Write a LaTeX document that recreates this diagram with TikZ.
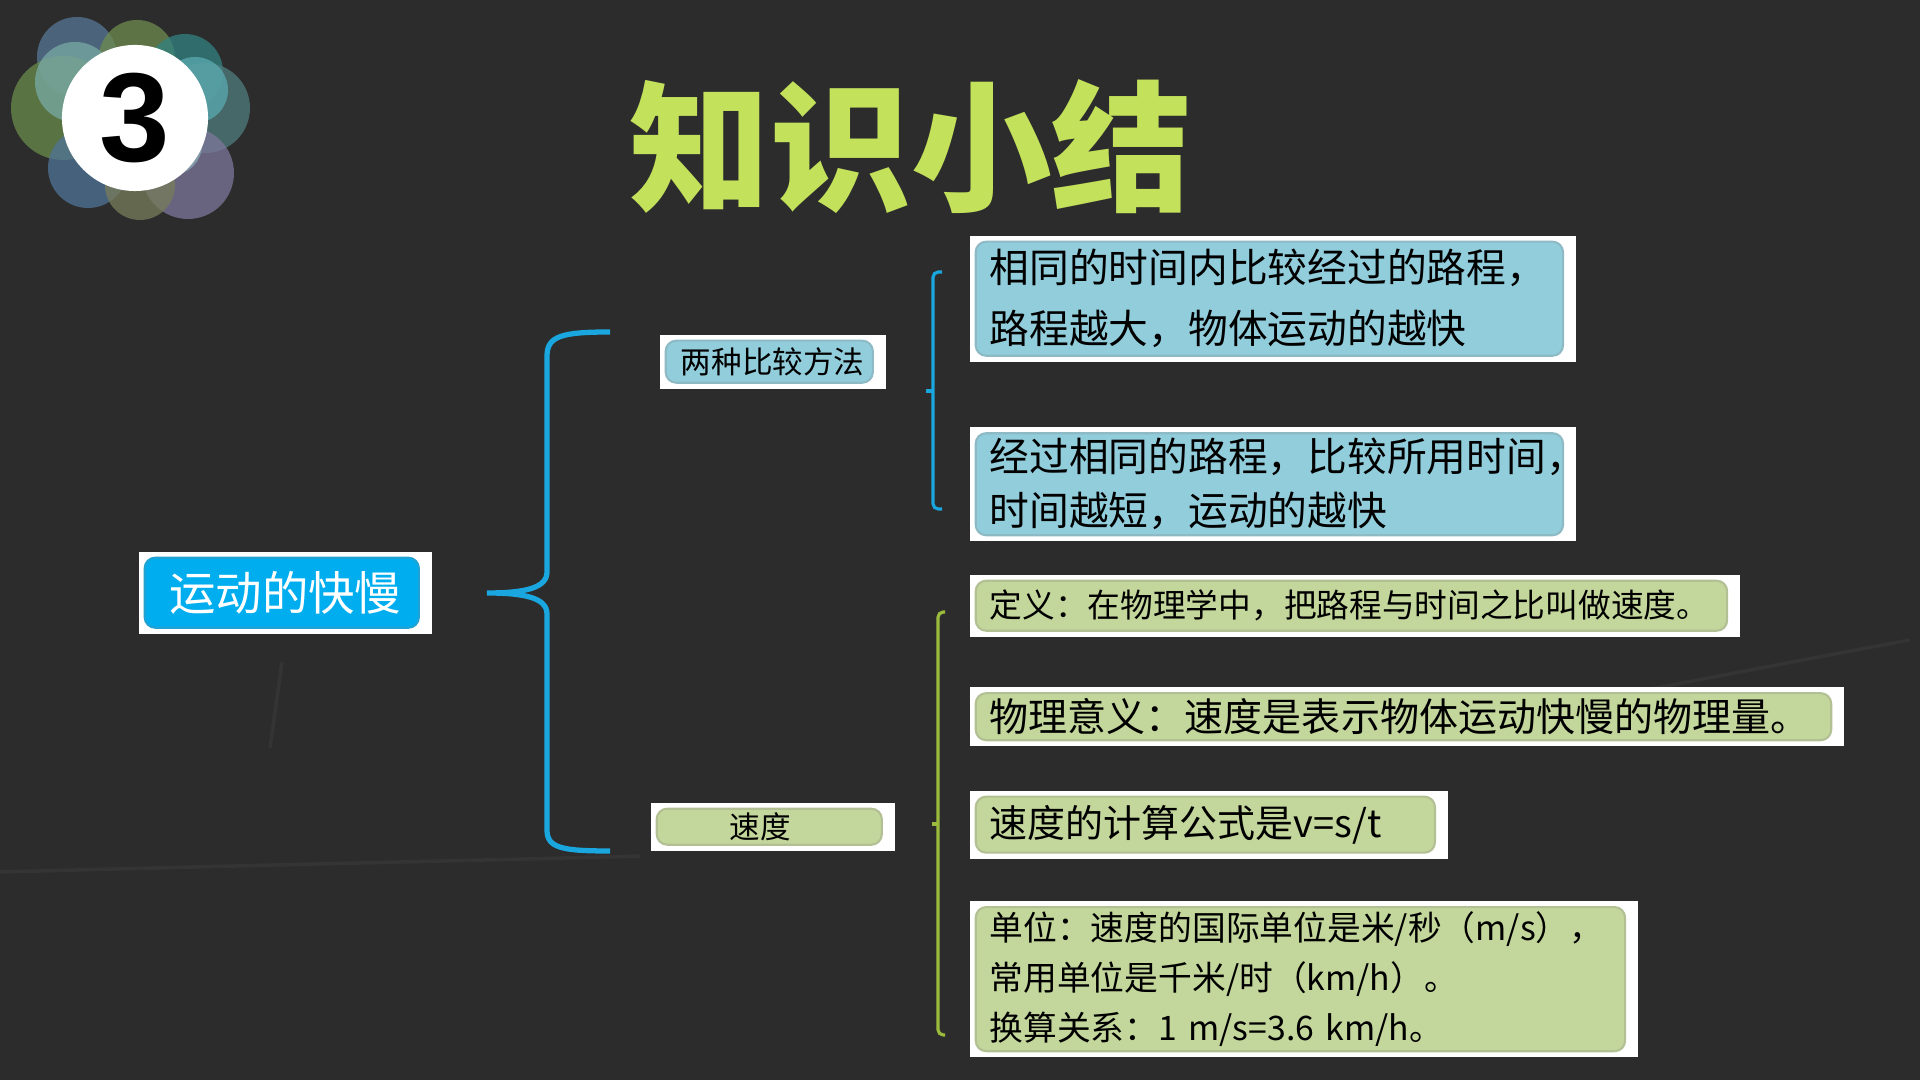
\documentclass[tikz,border=0pt]{standalone}
\usepackage{fontspec}
\setmainfont{Noto Sans CJK SC}
\newfontfamily\numfont{Liberation Sans}
\usepackage{tikz}
\usetikzlibrary{positioning}
\usepackage{xcolor}
\definecolor{board}{RGB}{44,44,44}
\definecolor{titlegreen}{RGB}{195,225,90}
\definecolor{mainblue}{RGB}{0,174,239}
\definecolor{lightblue}{RGB}{146,205,220}
\definecolor{lightgreen}{RGB}{195,214,155}
\definecolor{braceblue}{RGB}{26,166,222}
\definecolor{bracegreen}{RGB}{155,187,60}

\tikzset{
  card/.style={anchor=north west, fill=white, inner xsep=0.2cm, inner ysep=0pt,
    align=left, text=black,
    path picture={\draw[rounded corners=3pt, fill=#1, draw=#1!75!gray, line width=0.6pt]
      ([shift={(0.06cm,-0.06cm)}]path picture bounding box.north west) rectangle
      ([shift={(-0.13cm,0.06cm)}]path picture bounding box.south east);}},
  bracket/.style={line width=0.9pt, rounded corners=1.5pt},
  chalk/.style={white, opacity=0.04, line width=1pt},
}

\begin{document}
\begin{tikzpicture}[x=0.01cm, y=-0.01cm]
\fill[board] (0,0) rectangle (1920,1080);
\useasboundingbox (0,0) rectangle (1920,1080);
% chalk scratches
\draw[chalk] (0,872) .. controls (300,864) and (500,860) .. (640,856);
\draw[chalk] (282,662) -- (270,748);
\draw[chalk] (1480,720) .. controls (1650,690) and (1800,660) .. (1910,640);

% badge
\foreach \cx/\cy/\rr/\cr/\cg/\cb in {77/57/40/88/120/150, 137/58/38/110/140/80,
    185/72/38/50/130/130, 205/108/45/80/125/125, 195/90/33/90/170/175,
    63/108/52/105/140/75, 75/82/40/120/170/165, 88/168/40/80/115/150,
    188/173/46/125/120/155, 140/185/35/120/125/90, 172/145/30/140/170/180}{
  \definecolor{petal}{RGB}{\cr,\cg,\cb}
  \fill[petal, opacity=0.75] (\cx,\cy) circle[radius=\rr];
}
\node[fill=white, circle, minimum size=1.46cm, inner sep=0pt,
  font=\numfont\bfseries\fontsize{36}{36}\selectfont] (badge) at (135,118) {3};

\node[text=titlegreen, font=\bfseries\fontsize{40}{40}\selectfont] (title) at (911,147) {知识小结};

% left part
\node[card=mainblue, align=center, text=white, minimum width=2.93cm, minimum height=0.82cm,
  font=\fontsize{13.2}{14}\selectfont] (topic) at (138,551) {运动的快慢};
\node[card=lightblue, align=center, minimum width=2.26cm, minimum height=0.54cm,
  font=\fontsize{8.7}{10}\selectfont] (method) at (659,334) {两种比较方法};
\node[card=lightgreen, align=center, minimum width=2.44cm, minimum height=0.48cm,
  font=\fontsize{8.7}{10}\selectfont] (speed) at (650,802) {\hspace*{-0.25cm}速度};

\coordinate (braceTop) at (610,332);
\coordinate (braceTip) at (487,593);
\coordinate (braceBot) at (610,851);
\draw[braceblue, line width=1.5pt] (braceTop) .. controls (562,332) and (547,336) .. (547,356)
  -- (547,572) .. controls (547,588) and (525,593) .. (braceTip)
  .. controls (525,593) and (547,598) .. (547,614)
  -- (547,830) .. controls (547,848) and (562,851) .. (braceBot);

% comparing methods
\node[card=lightblue, text width=5.66cm, minimum height=1.26cm,
  font=\fontsize{11.3}{17.4}\selectfont] (same-time) at (969,235)
  {相同的时间内比较经过的路程，\\路程越大，物体运动的越快};
\node[card=lightblue, text width=5.66cm, minimum height=1.14cm,
  below=0.64cm of same-time.south west, anchor=north west,
  font=\fontsize{11.3}{15.4}\selectfont] (same-path)
  {经过相同的路程，比较所用时间，\\时间越短，运动的越快};

\coordinate (mTop) at (942,272);
\coordinate (mMid) at (926,391);
\coordinate (mBot) at (942,509);
\draw[braceblue, bracket] (mTop) -- (933,272) -- (933,509) -- (mBot);
\draw[braceblue, bracket] (933,391) -- (mMid);

% speed
\node[card=lightgreen, text width=7.30cm, minimum height=0.62cm,
  below=0.32cm of same-path.south west, anchor=north west,
  font=\fontsize{9.3}{11}\selectfont] (define) {定义：在物理学中，把路程与时间之比叫做速度。};
\node[card=lightgreen, text width=8.34cm, minimum height=0.59cm,
  below=0.49cm of define.south west, anchor=north west,
  font=\fontsize{11.1}{13}\selectfont] (meaning) {物理意义：速度是表示物体运动快慢的物理量。};
\node[card=lightgreen, text width=4.38cm, minimum height=0.68cm,
  below=0.43cm of meaning.south west, anchor=north west,
  font=\fontsize{10.8}{12}\selectfont] (formula) {速度的计算公式是v=s/t};
\node[card=lightgreen, text width=6.28cm, minimum height=1.56cm,
  below=0.41cm of formula.south west, anchor=north west,
  font=\fontsize{9.6}{14.1}\selectfont] (unit)
  {单位：速度的国际单位是米/秒（m/s），\\常用单位是千米/时（km/h）。\\换算关系：1 m/s=3.6 km/h。};

\coordinate (sTop) at (945,612);
\coordinate (sMid) at (932,824);
\coordinate (sBot) at (945,1035);
\draw[bracegreen, bracket] (sTop) -- (938,612) -- (938,1035) -- (sBot);
\draw[bracegreen, bracket] (938,824) -- (sMid);
\end{tikzpicture}
\end{document}
